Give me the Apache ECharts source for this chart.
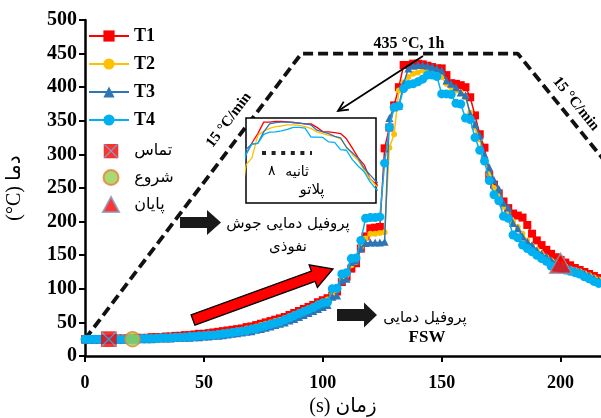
<!DOCTYPE html>
<html><head><meta charset="utf-8">
<script src="https://cdn.jsdelivr.net/npm/echarts@6/dist/echarts.min.js"></script>
<style>html,body{margin:0;padding:0;background:#fff}#c{width:601px;height:418px}</style>
</head><body><div id="c"></div>
<script>
// ---- data ----
const xTicks = [0, 50, 100, 150, 200];
const time = [0,2,4,6,8,10,12,14,16,18,20,22,24,26,28,30,32,34,36,38,40,
42,44,46,48,50,52,54,56,58,60,
62,64,66,68,70,72,74,76,78,80,
82,84,86,88,90,92,94,96,98,100,
102,104,106,108,110,112,114,116,118,120,
122,124,126,128,130,132,134,136,138,140,
142,144,146,148,150,152,154,156,158,160,
162,164,166,168,170,172,174,176,178,180,
182,184,186,188,190,192,194,196,198,200,
202,204,206,208,210,212,214,216];
const t1 = [25,25,25,25,25,25,26,26,26,26,26,27,27,27,28,28,28,29,29,30,30,
31,31,32,33,33,34,35,36,37,38,
39,40,41,43,44,46,48,50,52,54,
56,58,61,64,67,70,73,76,80,83,
86,90,96,110,118,130,138,160,178,190,
191,192,309,340,373,400,433,433,435,435,
434,432,430,428,428,418,406,405,403,400,
385,358,330,310,269,255,242,230,220,212,
209,206,195,182,172,165,158,152,147,143,
139,135,131,128,125,122,119,116];
const t2 = [25,25,25,25,25,25,25,26,26,26,26,26,27,27,27,28,28,28,29,29,29,
30,30,31,31,32,33,33,34,35,36,
37,38,39,41,42,44,46,48,50,52,
54,56,59,62,65,68,71,74,78,81,
84,92,98,114,120,135,140,162,175,182,
182,183,184,310,330,395,407,415,420,422,
425,425,424,420,415,405,400,395,392,385,
362,340,322,295,270,250,238,222,212,200,
192,182,172,164,158,152,147,142,139,136,
133,130,128,126,123,120,117,114];
const t3 = [24,24,24,24,24,24,24,24,24,25,25,25,25,25,25,26,26,26,26,27,27,
27,27,28,28,29,29,30,30,31,32,
33,34,35,36,37,39,40,42,44,46,
48,50,53,55,58,61,64,67,70,73,
76,88,90,112,115,140,142,160,168,169,
169,169,170,354,370,372,405,428,432,433,
433,432,430,428,425,410,405,400,392,388,
360,345,328,300,281,262,249,228,221,198,
190,178,170,165,157,152,148,143,139,136,
133,131,128,126,123,120,116,113];
const t4 = [25,25,25,25,25,25,25,25,25,25,25,25,26,26,26,26,27,27,27,28,28,
28,29,29,30,30,31,31,32,33,34,
35,36,37,38,40,41,43,45,47,49,
51,54,57,60,63,66,69,72,76,79,
80,100,101,122,124,145,146,172,205,206,
206,207,287,340,370,372,398,404,405,408,
412,418,418,416,390,390,389,376,375,354,
352,325,306,290,261,240,231,208,205,180,
176,165,160,155,150,145,141,134,132,130,
128,126,124,122,118,115,111,108];
const seriesNames = ['T1', 'T2', 'T3', 'T4'];
const eventNames = ['تماس', 'شروع', 'پایان'];
const eventTime = [10, 20, 200];
const eventTemp = [25, 25, 138];
const profileTime = [0, 91, 182, 230];
const profileTemp = [25, 450, 450, 240];
// ---- end data ----

const SERIF = "'Liberation Serif','Times New Roman',serif";
const FA = "'DejaVu Sans','Noto Sans',sans-serif";
const pairs = (xs, ys) => xs.map((x, i) => [x, ys[i]]);
const vals = [t1, t2, t3, t4];
const colors = ['#FF0000', '#FFC000', '#2E75B6', '#00B0F0'];
const symbols = ['rect', 'circle', 'triangle', 'circle'];
const sizes = [8, 6, 8, 9];

const svgTamas = "<svg xmlns='http://www.w3.org/2000/svg' width='32' height='32'><rect x='1' y='1' width='30' height='30' fill='#FF0000' stroke='#E00000' stroke-width='2'/><path d='M2 2L30 30M30 2L2 30' stroke='#4A9AC8' stroke-width='2.5'/></svg>";
const tamasIcon = 'image://data:image/svg+xml;charset=utf-8,' + encodeURIComponent(svgTamas);

const series = [];
series.push({
  type: 'line', name: 'profile', data: pairs(profileTime, profileTemp),
  symbol: 'none', silent: true, z: 1,
  lineStyle: { color: '#111', width: 3.8, type: [10, 5] }
});
seriesNames.forEach((n, k) => {
  series.push({
    type: 'line', name: n, data: pairs(time, vals[k]),
    symbol: symbols[k], symbolSize: sizes[k], showAllSymbol: true,
    itemStyle: { color: colors[k] }, lineStyle: { color: colors[k], width: 1.5 },
    z: 2 + k
  });
});
series.push({ type: 'scatter', name: eventNames[0], data: [[eventTime[0], eventTemp[0]]],
  symbol: tamasIcon, symbolSize: 16, z: 10 });
series.push({ type: 'scatter', name: eventNames[1], data: [[eventTime[1], eventTemp[1]]],
  symbol: 'circle', symbolSize: 15, itemStyle: { color: '#92D050', borderColor: '#ED7D31', borderWidth: 1.5 }, z: 10 });
series.push({ type: 'scatter', name: eventNames[2], data: [[eventTime[2], eventTemp[2]]],
  symbol: 'triangle', symbolSize: [22, 20], itemStyle: { color: '#FF0000', borderColor: '#8497B0', borderWidth: 1.5 }, z: 10 });
seriesNames.forEach((n, k) => {
  series.push({
    type: 'line', name: n + '-inset', data: pairs(time, vals[k]),
    xAxisIndex: 1, yAxisIndex: 1, symbol: 'none', silent: true,
    lineStyle: { color: colors[k], width: 1.3 }, z: 20
  });
});

function arrowHead(x1, y1, x2, y2, len, ang) {
  const a = Math.atan2(y2 - y1, x2 - x1);
  return [[x2 - len * Math.cos(a - ang), y2 - len * Math.sin(a - ang)], [x2, y2],
          [x2 - len * Math.cos(a + ang), y2 - len * Math.sin(a + ang)]];
}
function blockArrow(x1, y1, x2, y2, sw, hw, hl) {
  const a = Math.atan2(y2 - y1, x2 - x1);
  const L = Math.hypot(x2 - x1, y2 - y1);
  const loc = [[0, -sw], [L - hl, -sw], [L - hl, -hw], [L, 0], [L - hl, hw], [L - hl, sw], [0, sw]];
  return loc.map(([u, v]) => [x1 + u * Math.cos(a) - v * Math.sin(a), y1 + u * Math.sin(a) + v * Math.cos(a)]);
}
const txt = (x, y, s, font, size, weight, rot, align) => ({
  type: 'text', x: x, y: y, rotation: rot || 0, z: 50,
  style: { text: s, fontFamily: font, fontSize: size, fontWeight: weight || 'normal', fill: '#000', align: align || 'center', verticalAlign: 'middle' }
});

const graphic = [
  txt(409, 44, '435 °C, 1h', SERIF, 16, 'bold'),
  txt(229, 120, '15 °C/min', SERIF, 15, 'bold', 53 * Math.PI / 180),
  txt(576, 104, '15 °C/min', SERIF, 15, 'bold', -51 * Math.PI / 180),
  { type: 'line', z: 50, shape: { x1: 423, y1: 56, x2: 338, y2: 111 }, style: { stroke: '#000', lineWidth: 1.8 } },
  { type: 'polyline', z: 50, shape: { points: arrowHead(423, 56, 338, 111, 11, 0.45) }, style: { stroke: '#000', lineWidth: 1.8, fill: null } },
  { type: 'polygon', z: 50, shape: { points: blockArrow(180, 222.5, 221, 222.5, 5.5, 12.5, 14) }, style: { fill: '#1a1a1a' } },
  { type: 'polygon', z: 50, shape: { points: blockArrow(337, 315, 377, 315, 6, 12.5, 13) }, style: { fill: '#1a1a1a' } },
  { type: 'polygon', z: 50, shape: { points: blockArrow(193, 320, 333, 269, 5.5, 12, 21) }, style: { fill: '#FF0000', stroke: '#000', lineWidth: 1.3 } },
  txt(288, 224, 'پروفیل دمایی جوش', FA, 15),
  txt(288, 247, 'نفوذی', FA, 15),
  txt(425, 318, 'پروفیل دمایی', FA, 15),
  txt(427, 338, 'FSW', SERIF, 17, 'bold'),
  { type: 'line', z: 50, shape: { x1: 262, y1: 153, x2: 312, y2: 153 }, style: { stroke: '#222', lineWidth: 4, lineDash: [4, 5.6] } },
  txt(268, 171, '۸', FA, 14, 'normal', 0, 'left'),
  txt(309, 172, 'ثانیه', FA, 14, 'normal', 0, 'right'),
  txt(312, 190, 'پلاتو', FA, 15)
];

const chart = echarts.init(document.getElementById('c'), null, { renderer: 'canvas' });
chart.setOption({
  animation: false,
  backgroundColor: '#fff',
  grid: [
    { left: 85, top: 20, right: 0, bottom: 62, containLabel: false, outerBoundsMode: 'none' },
    { left: 246, top: 118, width: 130, height: 85, show: true, borderColor: '#000', borderWidth: 1.5, backgroundColor: '#fff', z: 15, outerBoundsMode: 'none' }
  ],
  xAxis: [{
    type: 'value', min: 0, max: 217, interval: 50,
    axisLine: { show: true, onZero: false, lineStyle: { color: '#000', width: 2.5 } },
    axisTick: { show: true, length: 6, lineStyle: { color: '#000', width: 2 }, customValues: xTicks },
    axisLabel: { color: '#000', fontFamily: SERIF, fontWeight: 'bold', fontSize: 18, margin: 18, customValues: xTicks },
    splitLine: { show: false },
    name: '(s) زمان', nameLocation: 'middle', nameGap: 40,
    nameTextStyle: { color: '#000', fontFamily: SERIF + ",'DejaVu Sans'", fontSize: 20 }
  }, {
    gridIndex: 1, type: 'value', min: 128, max: 172, show: false
  }],
  yAxis: [{
    type: 'value', min: 0, max: 500, interval: 50,
    axisLine: { show: true, onZero: false, lineStyle: { color: '#000', width: 2.5 } },
    axisTick: { show: true, length: 6, lineStyle: { color: '#000', width: 2 } },
    axisLabel: { color: '#000', fontFamily: SERIF, fontWeight: 'bold', fontSize: 20, margin: 8 },
    splitLine: { show: false },
    name: '(°C) دما', nameLocation: 'middle', nameGap: 60,
    nameTextStyle: { color: '#000', fontFamily: SERIF + ",'DejaVu Sans'", fontSize: 20 }
  }, {
    gridIndex: 1, type: 'value', min: 200, max: 445, show: false
  }],
  legend: [{
    orient: 'vertical', left: 88, top: 27, padding: 0, itemWidth: 40, itemHeight: 14, itemGap: 10,
    data: seriesNames,
    textStyle: { color: '#000', fontFamily: SERIF, fontWeight: 'bold', fontSize: 18 },
    selectedMode: false
  }, {
    orient: 'vertical', left: 102, top: 143, padding: 0, itemWidth: 16, itemHeight: 15, itemGap: 10,
    data: eventNames,
    formatter: n => '  ' + n,
    textStyle: { color: '#000', fontFamily: FA, fontSize: 16 },
    selectedMode: false
  }],
  series: series,
  graphic: graphic
});
</script></body></html>
